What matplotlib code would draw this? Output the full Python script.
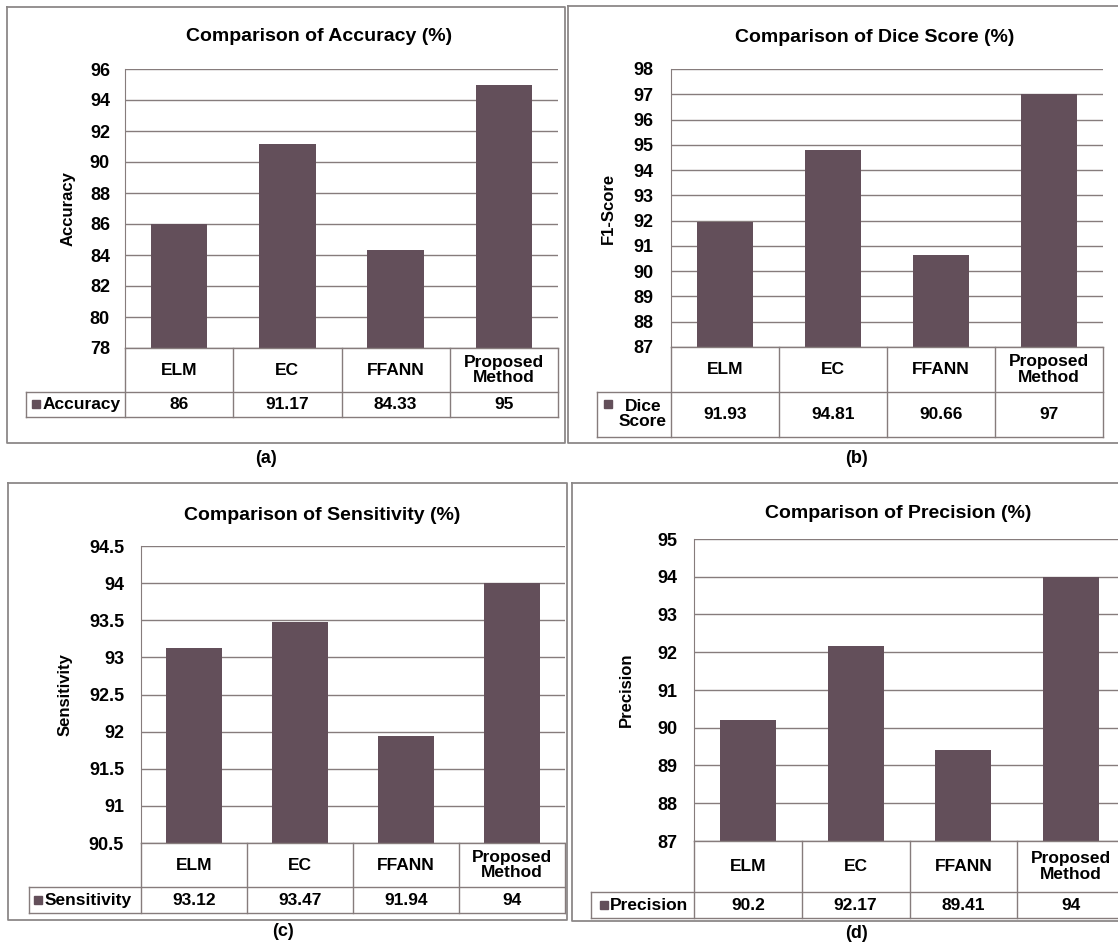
import numpy as np
import matplotlib
matplotlib.use("Agg")
import matplotlib.pyplot as plt

plt.rcParams['font.family'] = ['Liberation Sans', 'DejaVu Sans']
plt.rcParams['font.weight'] = 'bold'

# ---- data ----
methods = ['ELM', 'EC', 'FFANN', 'Proposed\nMethod']

accuracy = [86, 91.17, 84.33, 95]
dice = [91.93, 94.81, 90.66, 97]
sensitivity = [93.12, 93.47, 91.94, 94]
precision = [90.2, 92.17, 89.41, 94]

acc_labels = ['86', '91.17', '84.33', '95']
dice_labels = ['91.93', '94.81', '90.66', '97']
sens_labels = ['93.12', '93.47', '91.94', '94']
prec_labels = ['90.2', '92.17', '89.41', '94']

acc_ticks = [78, 80, 82, 84, 86, 88, 90, 92, 94, 96]
dice_ticks = [87, 88, 89, 90, 91, 92, 93, 94, 95, 96, 97, 98]
sens_ticks = [90.5, 91, 91.5, 92, 92.5, 93, 93.5, 94, 94.5]
prec_ticks = [87, 88, 89, 90, 91, 92, 93, 94, 95]

BAR = '#634f5a'
LINE = '#867c7c'
BOX = '#8c8888'
W, H = 1118, 947

fig = plt.figure(figsize=(W / 100, H / 100), dpi=100)
over = fig.add_axes([0, 0, 1, 1], zorder=10)
over.set_xlim(0, W)
over.set_ylim(H, 0)
over.axis('off')


def panel(vals, labels, ticks, title, ylabel, series, fmt_tick, geo):
    L, R, T, B, HB, VB, LL = geo['plot']
    ax = fig.add_axes([L / W, 1 - B / H, (R - L) / W, (B - T) / H])
    ax.bar(range(len(vals)), vals, width=0.52, color=BAR, zorder=3)
    ax.set_xlim(-0.5, len(vals) - 0.5)
    ax.set_ylim(ticks[0], ticks[-1])
    ax.set_yticks(ticks)
    ax.set_yticklabels([fmt_tick(t) for t in ticks], fontsize=13, fontweight='bold')
    ax.set_xticks([])
    ax.tick_params(axis='y', length=0, pad=(L - geo['tickx']) * 0.72)
    ax.yaxis.grid(True, color=LINE, lw=1.0)
    ax.set_axisbelow(True)
    for s in ['top', 'right', 'bottom']:
        ax.spines[s].set_visible(False)
    ax.spines['left'].set_color(LINE)
    ax.patch.set_alpha(0)

    # title and y label
    over.text(geo['title'][0], geo['title'][1], title, ha='center', va='center',
              fontsize=14, fontweight='bold')
    over.text(geo['ylab'], (T + B) / 2, ylabel, rotation=90, ha='center',
              va='center', fontsize=12, fontweight='bold')

    # data table under the plot
    xs = np.linspace(L, R, len(vals) + 1)
    over.plot([L, R], [B, B], color=LINE, lw=1)
    over.plot([LL, R], [HB, HB], color=LINE, lw=1)
    over.plot([LL, R], [VB, VB], color=LINE, lw=1)
    for x in xs:
        over.plot([x, x], [B, VB], color=LINE, lw=1)
    over.plot([LL, LL], [HB, VB], color=LINE, lw=1)
    for i in range(len(vals)):
        cx = (xs[i] + xs[i + 1]) / 2
        over.text(cx, (B + HB) / 2, methods[i], ha='center', va='center',
                  fontsize=12.5, fontweight='bold', linespacing=1.05)
        over.text(cx, (HB + VB) / 2, labels[i], ha='center', va='center',
                  fontsize=12.5, fontweight='bold')
    mx, my = geo['marker']
    over.plot(mx, my, marker='s', ms=5.5, color=BAR, lw=0)
    tx, ty, ha = geo['series']
    over.text(tx, ty, series, ha=ha, va='center', fontsize=12.5,
              fontweight='bold', linespacing=1.0)

    # panel border and caption
    x0, x1, y0, y1 = geo['box']
    over.plot([x0, x1, x1, x0, x0], [y0, y0, y1, y1, y0], color=BOX, lw=1.3)
    over.text(geo['cap'][0], geo['cap'][1], geo['capt'], ha='center',
              va='center', fontsize=13, fontweight='bold')


def int_fmt(t):
    return '%d' % t


def half_fmt(t):
    return ('%g' % t)


panel(accuracy, acc_labels, acc_ticks, 'Comparison of Accuracy (%)', 'Accuracy',
      'Accuracy', int_fmt,
      dict(plot=(125, 558, 69, 348, 392, 417, 26), tickx=110, title=(319, 36),
           ylab=68, marker=(36, 404), series=(43, 404, 'left'),
           box=(7, 565, 7, 443), cap=(266, 458), capt='(a)'))

panel(dice, dice_labels, dice_ticks, 'Comparison of Dice Score (%)', 'F1-Score',
      'Dice\nScore', int_fmt,
      dict(plot=(671, 1103, 69, 347, 392, 437, 597), tickx=653, title=(875, 37),
           ylab=608, marker=(608, 404), series=(643, 414, 'center'),
           box=(568, 1125, 6, 443), cap=(857, 458), capt='(b)'))

panel(sensitivity, sens_labels, sens_ticks, 'Comparison of Sensitivity (%)',
      'Sensitivity', 'Sensitivity', half_fmt,
      dict(plot=(141, 565, 546, 843, 887, 913, 29), tickx=124, title=(322, 515),
           ylab=65, marker=(38, 900), series=(45, 900, 'left'),
           box=(8, 567, 483, 920), cap=(283, 931), capt='(c)'))

panel(precision, prec_labels, prec_ticks, 'Comparison of Precision (%)',
      'Precision', 'Precision', int_fmt,
      dict(plot=(694, 1125, 539, 841, 892, 918, 591), tickx=677, title=(898, 513),
           ylab=626, marker=(604, 905), series=(610, 905, 'left'),
           box=(572, 1130, 483, 921), cap=(857, 933), capt='(d)'))

fig.savefig('out.png', dpi=100)
